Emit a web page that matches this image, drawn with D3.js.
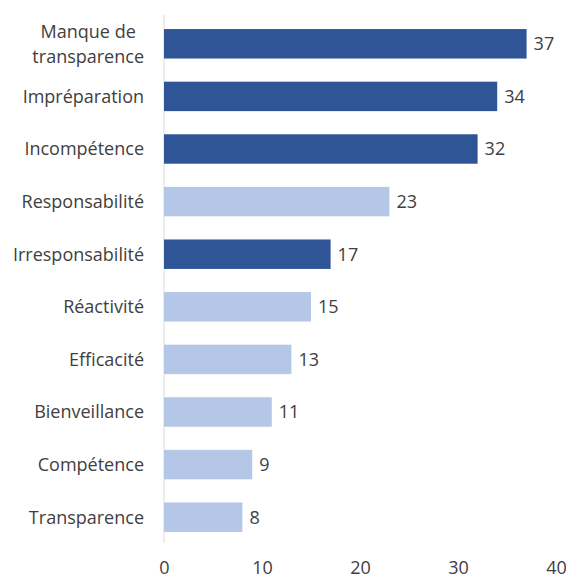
<!DOCTYPE html>
<html><head><meta charset="utf-8">
<script src="https://cdn.jsdelivr.net/npm/d3@7"></script>
<style>body{margin:0;background:#fff}svg{display:block}</style>
</head><body>
<script>
const categories = ["Manque de transparence","Impréparation","Incompétence","Responsabilité","Irresponsabilité","Réactivité","Efficacité","Bienveillance","Compétence","Transparence"];
const values = [37,34,32,23,17,15,13,11,9,8];
const negative = [true,true,true,false,true,false,false,false,false,false];
const ticks = [0,10,20,30,40];
const darkColor = "#2F5597", lightColor = "#B4C7E7";

const W=566,H=578;
const svg=d3.select("body").append("svg").attr("width",W).attr("height",H);
const font="'Open Sans', sans-serif";
const fs=18;
const x=d3.scaleLinear().domain([0,40]).range([164,556]);
const y=d3.scaleBand().domain(categories).range([17.5,543.5]).paddingInner(0.44).paddingOuter(0.22);

svg.append("line").attr("x1",x(0)).attr("x2",x(0)).attr("y1",15).attr("y2",543)
  .attr("stroke","#d9d9d9").attr("stroke-width",1);

svg.selectAll("rect.bar").data(categories).join("rect").attr("class","bar")
  .attr("x",x(0)).attr("y",d=>y(d)).attr("width",(d,i)=>x(values[i])-x(0)).attr("height",y.bandwidth())
  .attr("fill",(d,i)=>negative[i]?darkColor:lightColor);

svg.selectAll("text.val").data(categories).join("text").attr("class","val")
  .attr("x",(d,i)=>x(values[i])+7).attr("y",d=>y(d)+y.bandwidth()/2).attr("dy","0.35em")
  .attr("font-family",font).attr("font-size",fs).attr("fill","#404040")
  .text((d,i)=>values[i]);

categories.forEach(c=>{
  const cy=y(c)+y.bandwidth()/2;
  if(c==="Manque de transparence"){
    const t=svg.append("text").attr("font-family",font).attr("font-size",fs).attr("fill","#404040").attr("text-anchor","middle");
    const lines=["Manque de","transparence"];
    const tmp=svg.append("text").attr("font-family",font).attr("font-size",fs).text(lines[1]);
    const w=tmp.node().getComputedTextLength(); tmp.remove();
    const cx=144-w/2;
    lines.forEach((l,k)=>t.append("tspan").attr("x",cx).attr("y",cy+(k-0.5)*25).attr("dy","0.35em").text(l));
  } else {
    svg.append("text").attr("x",144).attr("y",cy).attr("dy","0.35em").attr("text-anchor","end")
      .attr("font-family",font).attr("font-size",fs).attr("fill","#404040").text(c);
  }
});

const ax=svg.append("g").attr("transform","translate(0,568)")
  .call(d3.axisBottom(x).tickValues(ticks).tickSize(0).tickPadding(0));
ax.select(".domain").remove();
ax.selectAll("text").attr("font-family",font).attr("font-size",fs).attr("fill","#404040").attr("dy","0.35em");
</script>
</body></html>
